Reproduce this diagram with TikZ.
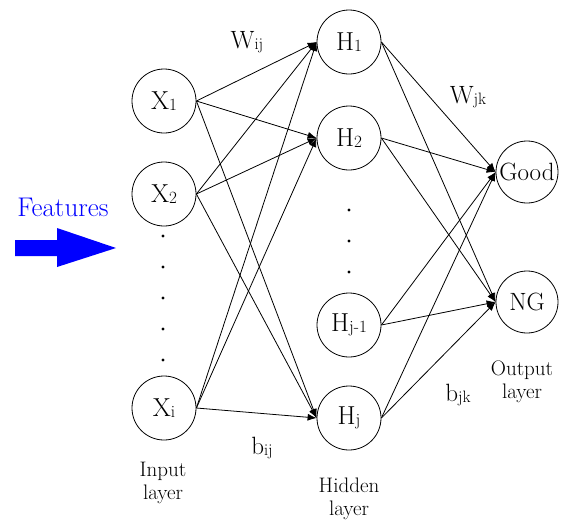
\documentclass[tikz,border=0pt]{standalone}
\usepackage{graphicx}
\usetikzlibrary{arrows.meta}
% small index set close to the baseline
\newcommand\idx[1]{\raisebox{-0.12ex}{\scalebox{0.66}{#1}}}
\begin{document}
\begin{tikzpicture}[x=1pt,y=-1pt,
  neuron/.style={draw,circle,minimum size=64pt,inner sep=0pt,line width=0.8pt,
    font=\fontsize{26}{30}\selectfont},
  outneuron/.style={neuron,minimum size=62pt,font=\fontsize{25}{30}\selectfont},
  link/.style={line width=0.8pt,-{Latex[length=9pt,width=7pt]}},
  wlabel/.style={font=\fontsize{25}{30}\selectfont},
  caption/.style={align=center,font=\fontsize{21}{23}\selectfont},
  vdot/.style={circle,fill=black,inner sep=0pt,minimum size=3.4pt}]
\useasboundingbox (0,0) rectangle (562,523);

% input layer
\node[neuron] (x1) at (164,101) {X\idx{1}};
\node[neuron] (x2) at (164,194) {X\idx{2}};
\node[neuron] (xi) at (164,408) {X\idx{i}};
\foreach \y [count=\k] in {236,267,298,329,360}
  \node[vdot] (xd\k) at (163,\y) {};

% hidden layer
\node[neuron] (h1) at (349,42) {H\idx{1}};
\node[neuron] (h2) at (349,138) {H\idx{2}};
\node[neuron] (hm) at (349,325) {H\idx{j-1}};
\node[neuron] (hj) at (349,418) {H\idx{j}};
\foreach \y [count=\k] in {210,241,272}
  \node[vdot] (hd\k) at (349,\y) {};

% output layer
\node[outneuron] (good) at (527,172) {Good};
\node[outneuron] (ng) at (527,302) {NG};

% input -> hidden
\foreach \s in {x1,x2,xi}
  \foreach \t in {h1,h2,hj}
    \draw[link] (\s.east) -- (\t.west);

% hidden -> output
\foreach \s in {h1,h2,hm,hj}
  \foreach \t in {good,ng}
    \draw[link] (\s.east) -- (\t.west);

% weight and bias labels
\node[wlabel] (wij) at (247,42) {W\idx{ij}};
\node[wlabel] (wjk) at (468,97) {W\idx{jk}};
\node[wlabel] (bij) at (262,448) {b\idx{ij}};
\node[wlabel] (bjk) at (458,395) {b\idx{jk}};

% layer captions
\node[caption] (inlab) at (163,483) {Input\\layer};
\node[caption] (hidlab) at (349,499) {Hidden\\layer};
\node[caption] (outlab) at (522,382) {Output\\layer};

% features arrow
\node[font=\fontsize{27}{30}\selectfont,text=blue] (feat) at (63,207) {Features};
\fill[blue] (15,240) -- (57,240) -- (57,228) -- (116,248) -- (57,267)
  -- (57,256) -- (15,256) -- cycle;
\end{tikzpicture}
\end{document}
